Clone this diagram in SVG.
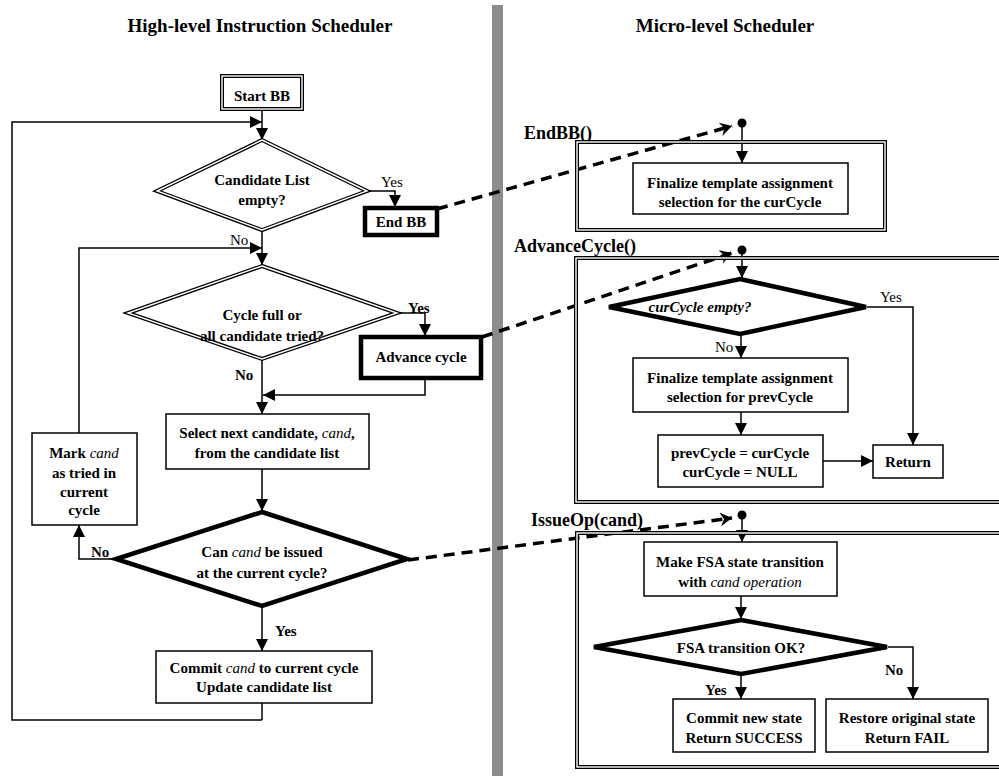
<svg xmlns="http://www.w3.org/2000/svg" width="999" height="776" viewBox="0 0 999 776">
<defs>
<style>
text{font-family:"Liberation Serif","Times New Roman",serif;fill:#000}
.t{font-size:15px;font-weight:bold;text-anchor:middle}
.title{font-size:19px;font-weight:bold;text-anchor:middle}
.fn{font-size:18px;font-weight:bold}
.lbl{font-size:15px;font-weight:bold}
.lbr{font-size:15px}
.box{fill:#fff;stroke:#000;stroke-width:1.5}
.thick{fill:#fff;stroke:#000;stroke-width:4.5}
.dbl{fill:none;stroke:#000;stroke-width:4}
.dblin{fill:none;stroke:#fff;stroke-width:1.4}
.ln{fill:none;stroke:#000;stroke-width:1.5}
.dash{fill:none;stroke:#000;stroke-width:3.5;stroke-dasharray:11 7}
</style>
<marker id="ar" markerUnits="userSpaceOnUse" markerWidth="14" markerHeight="14" refX="12" refY="6" orient="auto">
<path d="M0,0 L12,6 L0,12 Z" fill="#000"/>
</marker>
<marker id="far" markerUnits="userSpaceOnUse" markerWidth="16" markerHeight="16" refX="12" refY="7" orient="auto">
<path d="M0,0 L12,7 L0,14 L4,7 Z" fill="#000"/>
</marker>
</defs>
<rect width="999" height="776" fill="#fff"/>
<rect x="492" y="5" width="11" height="771" fill="#8c8c8c"/>
<text class="title" x="260" y="32">High-level Instruction Scheduler</text>
<text class="title" x="725" y="32">Micro-level Scheduler</text>

<g id="connectors">
<path class="ln" d="M262,109 V140" marker-end="url(#ar)"/>
<path class="ln" d="M262,720 H12 V122 H262" marker-end="url(#ar)"/>
<path class="ln" d="M262,703 V720"/>
<path class="ln" d="M367,191 H395 V207" marker-end="url(#ar)"/>
<path class="ln" d="M262,230 V265" marker-end="url(#ar)"/>
<path class="ln" d="M79,433 V248 H262" marker-end="url(#ar)"/>
<path class="ln" d="M397,313 H425 V336" marker-end="url(#ar)"/>
<path class="ln" d="M425,378 V395 H263" marker-end="url(#ar)"/>
<path class="ln" d="M262,359 V414" marker-end="url(#ar)"/>
<path class="ln" d="M262,469 V511" marker-end="url(#ar)"/>
<path class="ln" d="M115,559 H79 V525" marker-end="url(#ar)"/>
<path class="ln" d="M262,607 V651" marker-end="url(#ar)"/>
<path class="dash" d="M437,209 L732,126" marker-end="url(#far)"/>
<path class="dash" d="M482,337 L732,253" marker-end="url(#far)"/>
<path class="dash" d="M408,560 L732,518" marker-end="url(#far)"/>
<circle cx="742" cy="123" r="4.5" fill="#000"/>
<circle cx="742" cy="250" r="4.5" fill="#000"/>
<circle cx="742" cy="515" r="4.5" fill="#000"/>
<path class="ln" d="M742,123 V163" marker-end="url(#ar)"/>
<path class="ln" d="M742,250 V278" marker-end="url(#ar)"/>
<path class="ln" d="M742,515 V542" marker-end="url(#ar)"/>
<path class="ln" d="M741,335 V358" marker-end="url(#ar)"/>
<path class="ln" d="M741,412 V435" marker-end="url(#ar)"/>
<path class="ln" d="M823,461 H873" marker-end="url(#ar)"/>
<path class="ln" d="M867,307 H913 V445" marker-end="url(#ar)"/>
<path class="ln" d="M741,596 V619" marker-end="url(#ar)"/>
<path class="ln" d="M888,647 H913 V699" marker-end="url(#ar)"/>
<path class="ln" d="M741,675 V699" marker-end="url(#ar)"/>
</g>

<g id="start-bb">
<rect class="dbl" x="222" y="76" width="80" height="33"/><rect class="dblin" x="222" y="76" width="80" height="33"/>
<text class="t" x="262" y="101">Start BB</text>
</g>
<g id="cand-empty">
<polygon class="dbl" points="262,140 367,191 262,230 157,191" fill="#fff"/>
<polygon class="dblin" points="262,140 367,191 262,230 157,191"/>
<text class="t" x="262" y="185">Candidate List</text>
<text class="t" x="262" y="205">empty?</text>
</g>
<g id="end-bb">
<rect class="thick" x="365" y="208" width="72" height="27"/>
<text class="t" x="401" y="227">End BB</text>
</g>
<g id="cycle-full">
<polygon class="dbl" points="262,266 397,313 262,359 128,313" fill="#fff"/>
<polygon class="dblin" points="262,266 397,313 262,359 128,313"/>
<text class="t" x="262" y="320">Cycle full or</text>
<text class="t" x="262" y="341">all candidate tried?</text>
</g>
<g id="advance-cycle">
<rect class="thick" x="361" y="337" width="120" height="41"/>
<text class="t" x="421" y="362">Advance cycle</text>
</g>
<g id="select-next">
<rect class="box" x="166" y="414" width="203" height="55"/>
<text class="t" x="267" y="438">Select next candidate, <tspan font-style="italic" font-weight="normal">cand</tspan>,</text>
<text class="t" x="267" y="458">from the candidate list</text>
</g>
<g id="mark-cand">
<rect class="box" x="32" y="433" width="105" height="92"/>
<text class="t" x="84" y="458">Mark <tspan font-style="italic" font-weight="normal">cand</tspan></text>
<text class="t" x="84" y="478">as tried in</text>
<text class="t" x="84" y="497">current</text>
<text class="t" x="84" y="515">cycle</text>
</g>
<g id="can-issue">
<polygon class="thick" points="262,512 407,559 262,606 116,559"/>
<text class="t" x="262" y="557">Can <tspan font-style="italic" font-weight="normal">cand</tspan> be issued</text>
<text class="t" x="262" y="578">at the current cycle?</text>
</g>
<g id="commit-cand">
<rect class="box" x="156" y="651" width="216" height="52"/>
<text class="t" x="264" y="673">Commit <tspan font-style="italic" font-weight="normal">cand</tspan> to current cycle</text>
<text class="t" x="264" y="692">Update candidate list</text>
</g>
<text class="lbr" x="381" y="187">Yes</text>
<text class="lbr" x="230" y="245">No</text>
<text class="lbl" x="408" y="313">Yes</text>
<text class="lbl" x="235" y="380">No</text>
<text class="lbl" x="91" y="557">No</text>
<text class="lbl" x="275" y="636">Yes</text>

<g id="endbb-fn">
<text class="fn" x="524" y="139">EndBB()</text>
<rect class="dbl" x="577" y="142" width="308" height="88"/><rect class="dblin" x="577" y="142" width="308" height="88"/>
<rect class="box" x="633" y="163" width="215" height="51"/>
<text class="t" x="740" y="188">Finalize template assignment</text>
<text class="t" x="740" y="207">selection for the curCycle</text>
</g>
<g id="advancecycle-fn">
<text class="fn" x="514" y="252">AdvanceCycle()</text>
<rect class="dbl" x="576" y="258" width="430" height="244"/><rect class="dblin" x="576" y="258" width="430" height="244"/>
<polygon class="thick" points="740,279 866,307 740,334 609,307"/>
<text class="t" x="700" y="312" font-style="italic" font-weight="normal">curCycle empty?</text>
<text class="lbr" x="880" y="302">Yes</text>
<text class="lbr" x="715" y="352">No</text>
<rect class="box" x="633" y="358" width="215" height="54"/>
<text class="t" x="740" y="383">Finalize template assignment</text>
<text class="t" x="740" y="402">selection for prevCycle</text>
<rect class="box" x="658" y="435" width="165" height="52"/>
<text class="t" x="740" y="458">prevCycle = curCycle</text>
<text class="t" x="740" y="477">curCycle = NULL</text>
<rect class="box" x="873" y="445" width="70" height="33"/>
<text class="t" x="908" y="467">Return</text>
</g>
<g id="issueop-fn">
<text class="fn" x="531" y="526">IssueOp(cand)</text>
<rect class="dbl" x="577" y="533" width="430" height="234"/><rect class="dblin" x="577" y="533" width="430" height="234"/>
<rect class="box" x="644" y="542" width="193" height="54"/>
<text class="t" x="740" y="567">Make FSA state transition</text>
<text class="t" x="740" y="587">with <tspan font-style="italic" font-weight="normal">cand operation</tspan></text>
<polygon class="thick" points="741,620 887,647 741,674 594,647"/>
<text class="t" x="741" y="653">FSA transition OK?</text>
<text class="lbl" x="705" y="695">Yes</text>
<text class="lbl" x="885" y="675">No</text>
<rect class="box" x="673" y="699" width="142" height="53"/>
<text class="t" x="744" y="723">Commit new state</text>
<text class="t" x="744" y="743">Return SUCCESS</text>
<rect class="box" x="826" y="699" width="162" height="53"/>
<text class="t" x="907" y="723">Restore original state</text>
<text class="t" x="907" y="743">Return FAIL</text>
</g>
</svg>
